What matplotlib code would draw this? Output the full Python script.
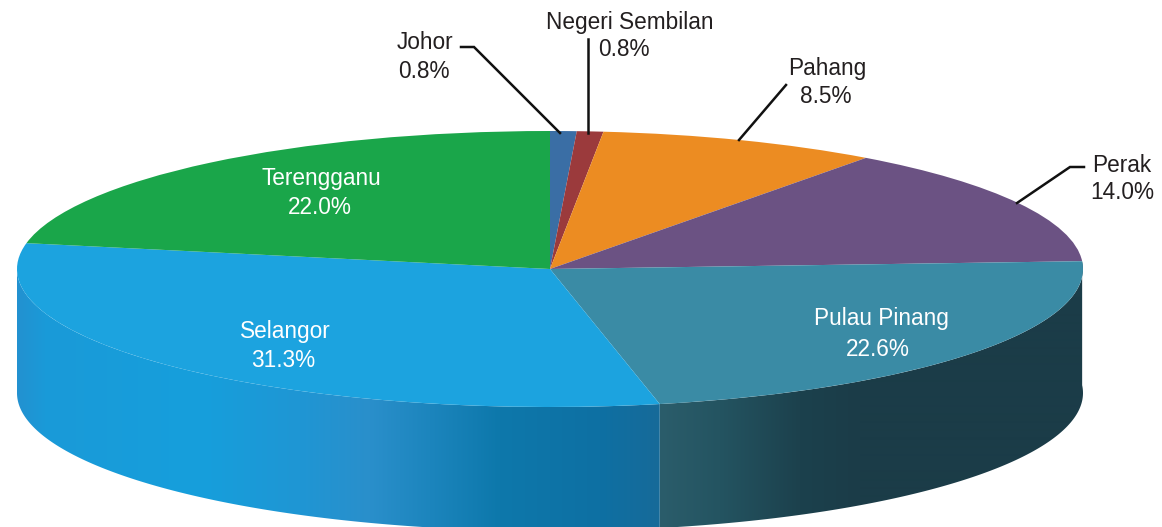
import matplotlib
matplotlib.use("Agg")
import matplotlib.pyplot as plt
from matplotlib.patches import Polygon
import numpy as np

states = ["Johor", "Negeri Sembilan", "Pahang", "Perak", "Pulau Pinang", "Selangor", "Terengganu"]
shares = [0.8, 0.8, 8.5, 14.0, 22.6, 31.3, 22.0]
colors = ["#3a6ea5", "#9b3a3c", "#ec8c22", "#6b5283", "#3a8ba5", "#1ca3df", "#1aa64a"]

# label centres and baselines in image pixels
name_x = [425, 630, 827, 1122, 881, 285, 321]
name_y = [49, 29, 75, 172, 325, 338, 185]
value_x = [424, 624, 826, 1122, 878, 283, 320]
value_y = [78, 56, 103, 199, 356, 367, 214]
label_colors = ["#231f20"] * 4 + ["white"] * 3

W, H = 1162, 527
CX, CY = 550, 269
RX, RY = 533, 138
DEPTH = 124 / RY

# colour along the side wall, by image x
selangor_x = [17, 45, 200, 300, 370, 430, 500, 600, 660]
selangor_c = ["#2391d0", "#1a9ad8", "#169fdc", "#1f96d4", "#2a8fcb", "#1c85bd", "#0d78ab", "#0e70a3", "#176a99"]
pinang_x = [660, 720, 800, 860, 1083]
pinang_c = ["#2b5d6b", "#245461", "#1c414d", "#1b3c48", "#1b3c48"]


def px(x, y):
    return (x - CX) / RX, (CY - y) / RY


def ramp(xs, cs):
    rgb = np.array([matplotlib.colors.to_rgb(c) for c in cs])
    cols = np.arange(W) + 0.5
    return np.stack([np.interp(cols, xs, rgb[:, i]) for i in range(3)], axis=1)[np.newaxis, :, :]


def side_wall(ax, start, end, xs, cs):
    # wall between two angles measured clockwise from 12 o'clock
    t = np.radians(np.linspace(start, end, 200))
    top = np.column_stack([np.sin(t), np.cos(t)])
    low = top[::-1] - [0, DEPTH]
    wall = Polygon(np.vstack([top, low]), closed=True, fc="none", ec="none")
    ax.add_patch(wall)
    im = ax.imshow(ramp(xs, cs), extent=(0, 1, 0, 1), transform=ax.transAxes,
                   aspect="auto", interpolation="bilinear")
    im.set_clip_path(wall)


fig = plt.figure(figsize=(W / 100, H / 100), dpi=100)
ax = fig.add_axes([0, 0, 1, 1])

edges = np.cumsum(shares) / sum(shares) * 360
side_wall(ax, edges[3], edges[4], pinang_x, pinang_c)
side_wall(ax, edges[4], 270, selangor_x, selangor_c)

ax.pie(shares, colors=colors, startangle=90, counterclock=False, radius=1,
       wedgeprops={"linewidth": 0})
ax.set_aspect("auto")
ax.set_xlim(px(0, 0)[0], px(W, 0)[0])
ax.set_ylim(px(0, H)[1], px(0, 0)[1])
ax.axis("off")

# leader lines
leaders = [
    [(461, 47), (474, 47), (560, 133)],
    [(588, 39), (588, 133)],
    [(786, 85), (739, 140)],
    [(1084, 167), (1070, 167), (1017, 203)],
]
for pts in leaders:
    xy = np.array([px(*p) for p in pts])
    ax.plot(xy[:, 0], xy[:, 1], color="#111111", lw=1.8, solid_joinstyle="miter")

for i, name in enumerate(states):
    ax.text(*px(name_x[i], name_y[i]), name, ha="center", va="baseline", color=label_colors[i],
            fontsize=16.3, family="Liberation Sans")
    ax.text(*px(value_x[i], value_y[i]), f"{shares[i]:.1f}%", ha="center", va="baseline",
            color=label_colors[i], fontsize=16.3, family="Liberation Sans")

fig.savefig("out.png", dpi=100)
